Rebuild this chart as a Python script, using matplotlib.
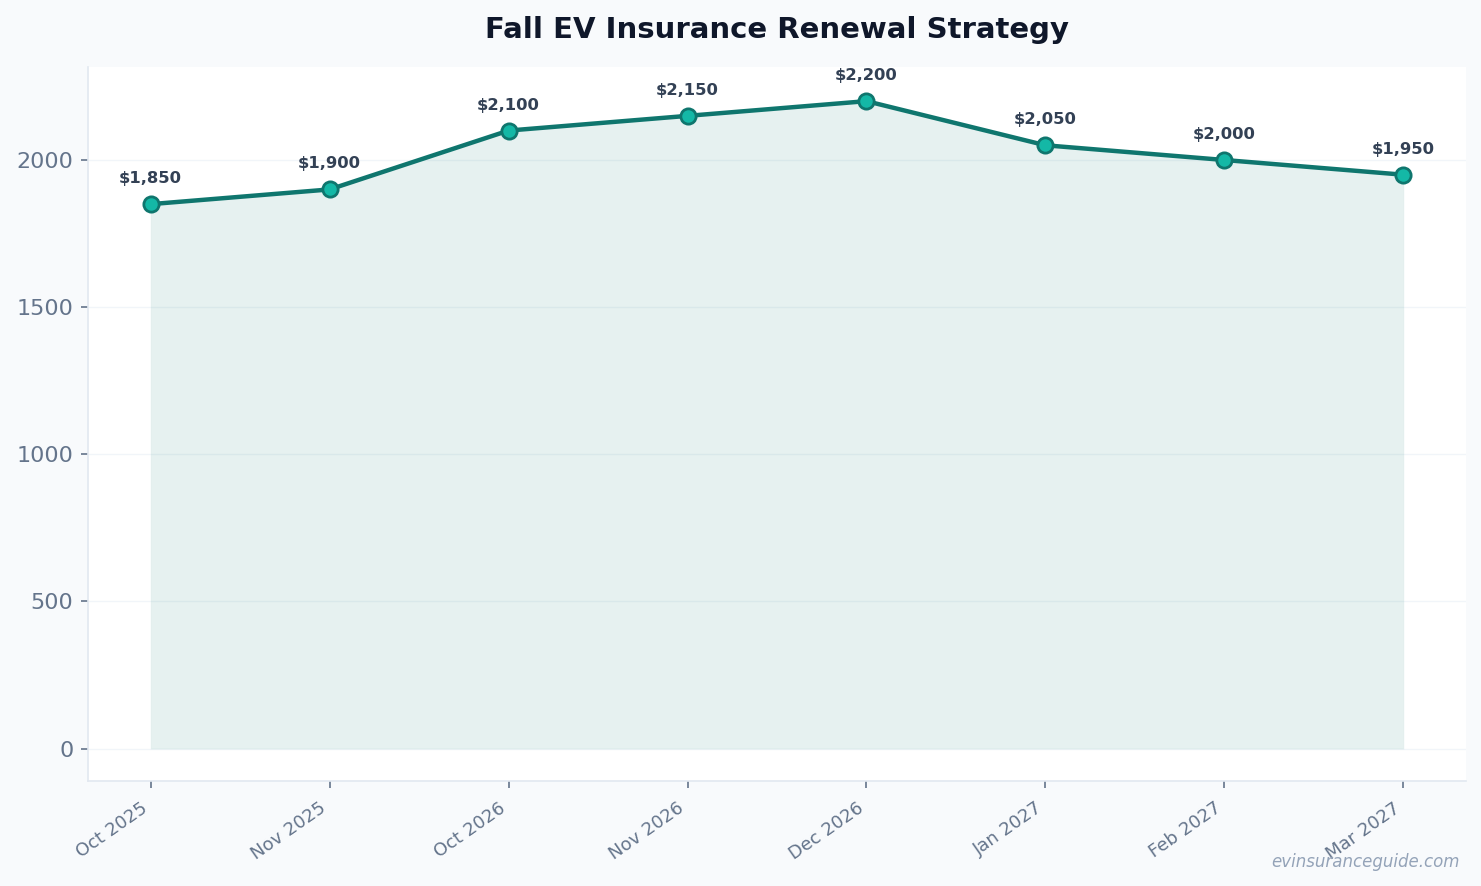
import matplotlib

matplotlib.use("Agg")

import matplotlib.pyplot as plt
import numpy as np

months = ["Oct 2025", "Nov 2025", "Oct 2026", "Nov 2026", "Dec 2026", "Jan 2027", "Feb 2027", "Mar 2027"]
premiums = [1850, 1900, 2100, 2150, 2200, 2050, 2000, 1950]

LINE = "#0f766e"
FACE = "#14b8a6"

fig = plt.figure(figsize=(14.81, 8.86), dpi=100, facecolor="#f8fafc")
ax = fig.add_axes([88 / 1481, 1 - 781 / 886, (1466 - 88) / 1481, (781 - 67) / 886])
ax.set_facecolor("white")

x = np.arange(len(months))
ax.fill_between(x, premiums, 0, color=LINE, alpha=0.1, linewidth=1.2, edgecolor="#b7dcd6")
ax.plot(x, premiums, color=LINE, linewidth=3.2, marker="o", markersize=11,
        markerfacecolor=FACE, markeredgecolor=LINE, markeredgewidth=2, zorder=3)

for xi, val in zip(x, premiums):
    ax.annotate(f"${val:,}", (xi, val), xytext=(0, 13), textcoords="offset points",
                ha="center", va="bottom", fontsize=11.8, fontweight="bold", color="#334155")

ax.set_xlim(-0.35, 7.35)
ax.set_ylim(-110, 2316)
ax.set_yticks([0, 500, 1000, 1500, 2000])
ax.set_xticks(x)
ax.set_xticklabels(months, rotation=35, ha="right")
ax.tick_params(axis="y", labelsize=16, colors="#64748b", length=5, width=1.2, pad=5.5)
ax.tick_params(axis="x", labelsize=13, colors="#64748b", length=5, width=1.2, pad=8)
for lab in ax.get_yticklabels() + ax.get_xticklabels():
    lab.set_color("#64748b")

ax.grid(axis="y", color="#f1f5f9", linewidth=1)
ax.set_axisbelow(True)
for side in ["top", "right"]:
    ax.spines[side].set_visible(False)
for side in ["left", "bottom"]:
    ax.spines[side].set_color("#e2e8f0")
    ax.spines[side].set_linewidth(1.2)

ax.set_title("Fall EV Insurance Renewal Strategy", fontsize=21, fontweight="bold",
             color="#0f172a", pad=21)
fig.text(1460 / 1481, 1 - 862 / 886, "evinsuranceguide.com", ha="right", va="center",
         fontsize=12, style="italic", color="#94a3b8")

fig.savefig("out.png", dpi=100, facecolor=fig.get_facecolor())
